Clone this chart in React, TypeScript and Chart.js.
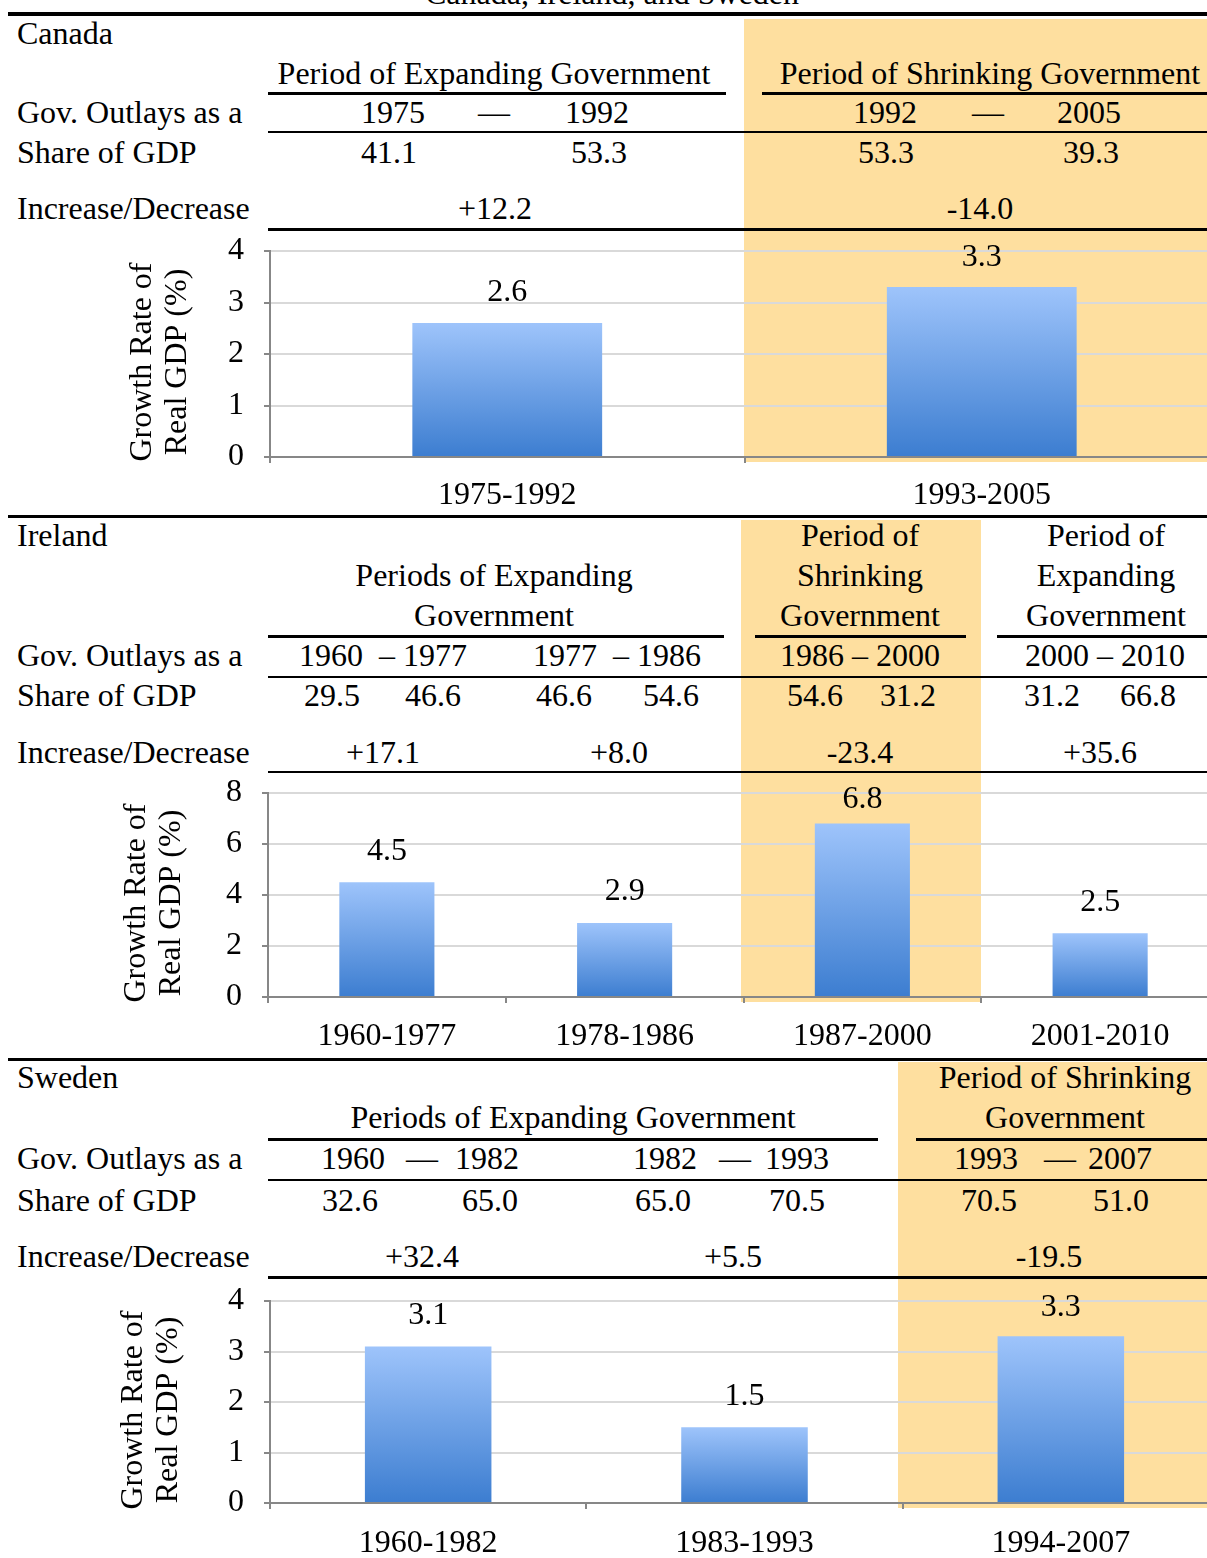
import React, { useEffect, useRef } from 'react';
import { Chart, registerables } from 'chart.js';

Chart.register(...registerables);

// ---------- data ----------
const pageTitle = 'Canada, Ireland, and Sweden';
const countries = ['Canada', 'Ireland', 'Sweden'];
const rowLabels = ['Gov. Outlays as a', 'Share of GDP', 'Increase/Decrease'];
const axisTitle = ['Growth Rate of', 'Real GDP (%)'];

const canadaHeads = ['Period of Expanding Government', 'Period of Shrinking Government'];
const canadaYears = ['1975', '1992', '1992', '2005'];
const canadaOutlays = [41.1, 53.3, 53.3, 39.3];
const canadaPeriods = ['1975-1992', '1993-2005'];
const canadaGrowth = [2.6, 3.3];
const canadaTicks = [0, 1, 2, 3, 4];

const irelandHeads = [
  ['Periods of Expanding', 'Government'],
  ['Period of', 'Shrinking', 'Government'],
  ['Period of', 'Expanding', 'Government'],
];
const irelandSpans = ['1960  \u2013 1977', '1977  \u2013 1986', '1986 \u2013 2000', '2000 \u2013 2010'];
const irelandOutlays = [29.5, 46.6, 46.6, 54.6, 54.6, 31.2, 31.2, 66.8];
const irelandPeriods = ['1960-1977', '1978-1986', '1987-2000', '2001-2010'];
const irelandGrowth = [4.5, 2.9, 6.8, 2.5];
const irelandTicks = [0, 2, 4, 6, 8];

const swedenHeads = [['Periods of Expanding Government'], ['Period of Shrinking', 'Government']];
const swedenYears = ['1960', '1982', '1982', '1993', '1993', '2007'];
const swedenOutlays = [32.6, 65.0, 65.0, 70.5, 70.5, 51.0];
const swedenPeriods = ['1960-1982', '1983-1993', '1994-2007'];
const swedenGrowth = [3.1, 1.5, 3.3];
const swedenTicks = [0, 1, 2, 3, 4];

// ---------- style ----------
const FONT = '"Liberation Serif", "Times New Roman", Times, serif';
const FS = 32;
const TITLE_LINE = 35;
const INK = '#000000';
const AXIS = '#878787';
const GRID = '#d9d9d9';
const BAND = '#fedf9f';
const BAR_TOP = '#9ec4fb';
const BAR_BASE = '#3c7dd0';
const PLOT_RIGHT = 1219;

Chart.defaults.font.family = FONT;
Chart.defaults.color = INK;

const change = (a: number, b: number) => {
  const d = b - a;
  return (d >= 0 ? '+' : '') + d.toFixed(1);
};

// Value printed above each bar, kept inside the top of the plot.
const valueLabels = {
  id: 'valueLabels',
  afterDatasetsDraw(chart: any) {
    const ctx = chart.ctx;
    const meta = chart.getDatasetMeta(0);
    const values = chart.data.datasets[0].data as number[];
    ctx.save();
    ctx.font = `${FS}px ${FONT}`;
    ctx.fillStyle = INK;
    ctx.textAlign = 'center';
    ctx.textBaseline = 'middle';
    meta.data.forEach((bar: any, i: number) => {
      const y = Math.max(bar.y - 31, chart.chartArea.top + 7);
      ctx.fillText(values[i].toFixed(1), bar.x, y);
    });
    ctx.restore();
  },
};

// Two-line rotated title beside the value axis, sitting slightly low like a text box.
const sideTitle = {
  id: 'sideTitle',
  afterDraw(chart: any, _args: any, opts: any) {
    const { ctx, chartArea } = chart;
    const cy = (chartArea.top + chartArea.bottom) / 2 + opts.drop;
    ctx.save();
    ctx.font = `${FS}px ${FONT}`;
    ctx.fillStyle = INK;
    ctx.textAlign = 'center';
    ctx.textBaseline = 'middle';
    (opts.lines as string[]).forEach((line, i) => {
      ctx.save();
      ctx.translate(opts.x + i * TITLE_LINE, cy);
      ctx.rotate(-Math.PI / 2);
      ctx.fillText(line, 0, 0);
      ctx.restore();
    });
    ctx.restore();
  },
};

type ChartProps = {
  labels: string[];
  values: number[];
  ticks: number[];
  top: number;
  height: number;
  plotTop: number;
  plotBottom: number;
  axisX: number;
  titleX: number;
  labelPad: number;
};

function GrowthChart(p: ChartProps) {
  const ref = useRef<HTMLCanvasElement>(null);
  useEffect(() => {
    const canvas = ref.current;
    if (!canvas) return;
    const padTop = p.plotTop - p.top;
    const xHeight = p.top + p.height - p.plotBottom;
    const tickFont = { family: FONT, size: FS };
    const chart = new Chart(canvas, {
      type: 'bar',
      data: {
        labels: p.labels,
        datasets: [
          {
            data: p.values,
            borderWidth: 0,
            barPercentage: 0.4,
            categoryPercentage: 1,
            backgroundColor: (c: any) => {
              const ch = c.chart;
              const y = ch.scales && ch.scales.y;
              if (!ch.chartArea || !y || c.type !== 'data') return BAR_BASE;
              const g = ch.ctx.createLinearGradient(0, y.getPixelForValue(c.raw), 0, y.getPixelForValue(0));
              g.addColorStop(0, BAR_TOP);
              g.addColorStop(1, BAR_BASE);
              return g;
            },
          },
        ],
      },
      options: {
        animation: false,
        responsive: true,
        maintainAspectRatio: false,
        events: [],
        layout: { padding: { top: padTop, left: 0, right: 0, bottom: 0 } },
        plugins: {
          legend: { display: false },
          tooltip: { enabled: false },
          title: { display: false },
          sideTitle: { lines: axisTitle, x: p.titleX, drop: 8 },
        },
        scales: {
          x: {
            grid: {
              display: true,
              drawOnChartArea: false,
              drawTicks: true,
              tickLength: 6,
              color: AXIS,
              lineWidth: 2,
              offset: true,
            },
            border: { display: true, color: AXIS, width: 2 },
            ticks: { font: tickFont, color: INK, padding: p.labelPad, maxRotation: 0, autoSkip: false },
            afterFit: (s: any) => {
              s.height = xHeight;
              s.paddingLeft = 0;
              s.paddingRight = 0;
            },
          },
          y: {
            min: p.ticks[0],
            max: p.ticks[p.ticks.length - 1],
            ticks: { stepSize: p.ticks[1] - p.ticks[0], font: tickFont, color: INK, padding: 20 },
            grid: {
              color: (c: any) => (c.tick && c.tick.value === 0 ? AXIS : GRID),
              lineWidth: 2,
              tickColor: AXIS,
              tickLength: 6,
              drawTicks: true,
            },
            border: { display: true, color: AXIS, width: 2 },
            afterFit: (s: any) => {
              s.width = p.axisX;
              s.paddingTop = 0;
              s.paddingBottom = 0;
            },
          },
        },
      } as any,
      plugins: [valueLabels, sideTitle],
    });
    return () => chart.destroy();
  }, []);
  return (
    <div style={{ position: 'absolute', left: 0, top: p.top, width: PLOT_RIGHT, height: p.height }}>
      <canvas ref={ref} style={{ display: 'block' }} />
    </div>
  );
}

function Label({ x, y, text, left }: { x: number; y: number; text: string; left?: boolean }) {
  return (
    <div
      style={{
        position: 'absolute',
        left: x,
        top: y,
        fontFamily: FONT,
        fontSize: FS,
        lineHeight: `${FS}px`,
        whiteSpace: 'pre',
        color: INK,
        transform: left ? 'translateY(-50%)' : 'translate(-50%, -50%)',
      }}
    >
      {text}
    </div>
  );
}

function Rule({ x1, x2, y, w }: { x1: number; x2: number; y: number; w: number }) {
  return <div style={{ position: 'absolute', left: x1, top: y - w / 2, width: x2 - x1, height: w, background: INK }} />;
}

function Band({ x, y, w, h }: { x: number; y: number; w: number; h: number }) {
  return <div style={{ position: 'absolute', left: x, top: y, width: w, height: h, background: BAND }} />;
}

export default function App() {
  return (
    <div
      style={{
        position: 'absolute',
        left: 0,
        top: 0,
        width: 1207,
        height: 1558,
        overflow: 'hidden',
        background: '#ffffff',
      }}
    >
      {/* shrinking-government periods */}
      <Band x={744} y={19} w={463} h={443} />
      <Band x={741} y={520} w={240} h={482} />
      <Band x={898} y={1062} w={309} h={446} />

      <Label x={612} y={-7} text={pageTitle} />
      <Rule x1={8} x2={1207} y={14} w={4} />

      {/* Canada */}
      <Label left x={17} y={33} text={countries[0]} />
      <Label x={494} y={73} text={canadaHeads[0]} />
      <Label x={990} y={73} text={canadaHeads[1]} />
      <Rule x1={268} x2={726} y={93} w={3} />
      <Rule x1={762} x2={1207} y={93} w={3} />
      <Label left x={17} y={112} text={rowLabels[0]} />
      {[393, 597, 885, 1089].map((x, i) => (
        <Label key={'cy' + i} x={x} y={112} text={canadaYears[i]} />
      ))}
      {[494, 988].map((x, i) => (
        <Label key={'cd' + i} x={x} y={112} text={'\u2014'} />
      ))}
      <Rule x1={268} x2={1207} y={132} w={2} />
      <Label left x={17} y={152} text={rowLabels[1]} />
      {[389, 599, 886, 1091].map((x, i) => (
        <Label key={'cv' + i} x={x} y={152} text={canadaOutlays[i].toFixed(1)} />
      ))}
      <Label left x={17} y={208} text={rowLabels[2]} />
      {[495, 980].map((x, i) => (
        <Label key={'cc' + i} x={x} y={208} text={change(canadaOutlays[2 * i], canadaOutlays[2 * i + 1])} />
      ))}
      <Rule x1={268} x2={1207} y={229} w={3} />
      <GrowthChart
        labels={canadaPeriods}
        values={canadaGrowth}
        ticks={canadaTicks}
        top={231}
        height={281}
        plotTop={251}
        plotBottom={457}
        axisX={270}
        titleX={143}
        labelPad={13}
      />
      <Rule x1={8} x2={1207} y={516} w={3} />

      {/* Ireland */}
      <Label left x={17} y={535} text={countries[1]} />
      {irelandHeads[0].map((t, i) => (
        <Label key={'ih0' + i} x={494} y={575 + 40 * i} text={t} />
      ))}
      {irelandHeads[1].map((t, i) => (
        <Label key={'ih1' + i} x={860} y={535 + 40 * i} text={t} />
      ))}
      {irelandHeads[2].map((t, i) => (
        <Label key={'ih2' + i} x={1106} y={535 + 40 * i} text={t} />
      ))}
      <Rule x1={268} x2={724} y={636} w={3} />
      <Rule x1={755} x2={966} y={636} w={3} />
      <Rule x1={997} x2={1207} y={636} w={3} />
      <Label left x={17} y={655} text={rowLabels[0]} />
      {[383, 617, 860, 1105].map((x, i) => (
        <Label key={'is' + i} x={x} y={655} text={irelandSpans[i]} />
      ))}
      <Rule x1={268} x2={1207} y={677} w={2} />
      <Label left x={17} y={695} text={rowLabels[1]} />
      {[332, 433, 564, 671, 815, 908, 1052, 1148].map((x, i) => (
        <Label key={'iv' + i} x={x} y={695} text={irelandOutlays[i].toFixed(1)} />
      ))}
      <Label left x={17} y={752} text={rowLabels[2]} />
      {[383, 619, 860, 1100].map((x, i) => (
        <Label key={'ic' + i} x={x} y={752} text={change(irelandOutlays[2 * i], irelandOutlays[2 * i + 1])} />
      ))}
      <Rule x1={268} x2={1207} y={772} w={1.5} />
      <GrowthChart
        labels={irelandPeriods}
        values={irelandGrowth}
        ticks={irelandTicks}
        top={773}
        height={282}
        plotTop={793}
        plotBottom={997}
        axisX={268}
        titleX={137}
        labelPad={14}
      />
      <Rule x1={8} x2={1207} y={1059} w={3} />

      {/* Sweden */}
      <Label left x={17} y={1077} text={countries[2]} />
      <Label x={573} y={1117} text={swedenHeads[0][0]} />
      {swedenHeads[1].map((t, i) => (
        <Label key={'sh' + i} x={1065} y={1077 + 40 * i} text={t} />
      ))}
      <Rule x1={268} x2={878} y={1139} w={3} />
      <Rule x1={916} x2={1207} y={1139} w={3} />
      <Label left x={17} y={1158} text={rowLabels[0]} />
      {[353, 487, 665, 797, 986, 1120].map((x, i) => (
        <Label key={'sy' + i} x={x} y={1158} text={swedenYears[i]} />
      ))}
      {[422, 735, 1060].map((x, i) => (
        <Label key={'sd' + i} x={x} y={1158} text={'\u2014'} />
      ))}
      <Rule x1={268} x2={1207} y={1180} w={2} />
      <Label left x={17} y={1200} text={rowLabels[1]} />
      {[350, 490, 663, 797, 989, 1121].map((x, i) => (
        <Label key={'sv' + i} x={x} y={1200} text={swedenOutlays[i].toFixed(1)} />
      ))}
      <Label left x={17} y={1256} text={rowLabels[2]} />
      {[422, 733, 1049].map((x, i) => (
        <Label key={'sc' + i} x={x} y={1256} text={change(swedenOutlays[2 * i], swedenOutlays[2 * i + 1])} />
      ))}
      <Rule x1={268} x2={1207} y={1277} w={3} />
      <GrowthChart
        labels={swedenPeriods}
        values={swedenGrowth}
        ticks={swedenTicks}
        top={1281}
        height={277}
        plotTop={1301}
        plotBottom={1503}
        axisX={270}
        titleX={134}
        labelPad={15}
      />
    </div>
  );
}
